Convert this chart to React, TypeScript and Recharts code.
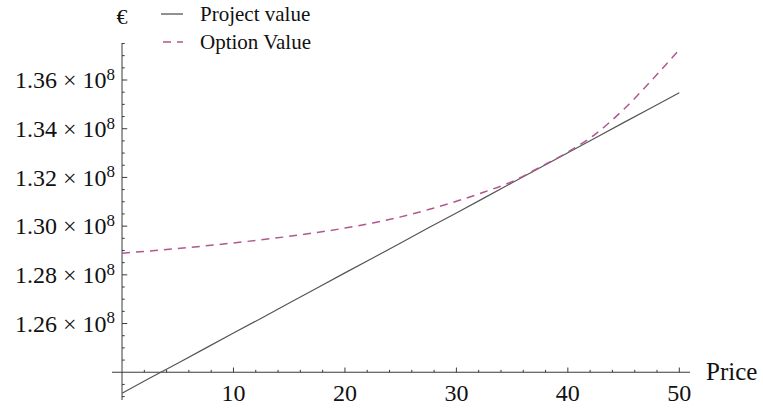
import React from 'react';
import { LineChart, Line, XAxis, YAxis, ReferenceLine, Legend } from 'recharts';

// ---------- data ----------
const PRICES = [0, 2.5, 5, 7.5, 10, 12.5, 15, 17.5, 20, 22.5, 25, 27.5, 30, 32.5, 35, 37.5, 40, 42.5, 45, 47.5, 50];
const PROJECT_VALUE = [
  1.2314e8, 1.2376e8, 1.2437e8, 1.2499e8, 1.2561e8, 1.2622e8, 1.2684e8, 1.2746e8, 1.2808e8, 1.2869e8,
  1.2931e8, 1.2993e8, 1.3054e8, 1.3116e8, 1.3178e8, 1.324e8, 1.3301e8, 1.3363e8, 1.3425e8, 1.3486e8, 1.3548e8,
];
const OPTION_VALUE = [
  1.2889e8, 1.2898e8, 1.2908e8, 1.2919e8, 1.2931e8, 1.2944e8, 1.2958e8, 1.2974e8, 1.2992e8, 1.3013e8,
  1.3038e8, 1.3068e8, 1.3102e8, 1.314e8, 1.3183e8, 1.3242e8, 1.3304e8, 1.3379e8, 1.3479e8, 1.3598e8, 1.3725e8,
];
const SERIES_NAMES = ['Project value', 'Option Value'];
const X_MAJOR_TICKS = [10, 20, 30, 40, 50];
const X_MINOR_TICKS = [2, 4, 6, 8, 12, 14, 16, 18, 22, 24, 26, 28, 32, 34, 36, 38, 42, 44, 46, 48];
const Y_MAJOR_TICKS = [1.26e8, 1.28e8, 1.3e8, 1.32e8, 1.34e8, 1.36e8];
const Y_MINOR_TICKS = [
  1.23e8, 1.235e8, 1.245e8, 1.25e8, 1.255e8, 1.265e8, 1.27e8, 1.275e8, 1.285e8, 1.29e8, 1.295e8,
  1.305e8, 1.31e8, 1.315e8, 1.325e8, 1.33e8, 1.335e8, 1.345e8, 1.35e8, 1.355e8, 1.365e8, 1.37e8, 1.375e8,
];
const AXIS_ORIGIN_X = 0;
const AXIS_ORIGIN_Y = 1.24e8;
const X_DOMAIN: [number, number] = [-0.9, 50.96];
const Y_DOMAIN: [number, number] = [1.2286e8, 1.3752e8];
const X_LABEL = 'Price';
const Y_LABEL = '€';

const data = PRICES.map((p, i) => ({ price: p, project: PROJECT_VALUE[i], option: OPTION_VALUE[i] }));

// ---------- layout ----------
const W = 763;
const H = 410;
const MARGIN = { top: 43, right: 73, bottom: 0, left: 0 };
const Y_AXIS_W = 112;
const X_AXIS_H = 10;
const PLOT_L = MARGIN.left + Y_AXIS_W;
const PLOT_T = MARGIN.top;
const PLOT_W = W - PLOT_L - MARGIN.right;
const PLOT_H = H - PLOT_T - MARGIN.bottom - X_AXIS_H;
const AXIS_X = PLOT_L + ((AXIS_ORIGIN_X - X_DOMAIN[0]) / (X_DOMAIN[1] - X_DOMAIN[0])) * PLOT_W;
const AXIS_Y = PLOT_T + ((Y_DOMAIN[1] - AXIS_ORIGIN_Y) / (Y_DOMAIN[1] - Y_DOMAIN[0])) * PLOT_H;

const FONT = '"Liberation Serif", "Times New Roman", Times, serif';
const AXIS_COLOR = '#3a3a3a';
const TEXT_COLOR = '#111';
const PROJECT_COLOR = '#555555';
const OPTION_COLOR = '#b0588f';

const XTick = (props: any) => {
  const { x, payload } = props;
  const v = payload.value;
  const major = X_MAJOR_TICKS.includes(v);
  return (
    <g>
      <line x1={x} x2={x} y1={AXIS_Y} y2={AXIS_Y - (major ? 4.7 : 2.4)} stroke={AXIS_COLOR} strokeWidth={1} />
      {major && (
        <text x={x} y={AXIS_Y + 28.7} textAnchor="middle" style={{ fontFamily: FONT }} fontSize={24} fill={TEXT_COLOR}>
          {v}
        </text>
      )}
    </g>
  );
};

const YTick = (props: any) => {
  const { y, payload } = props;
  const v = payload.value;
  const major = Y_MAJOR_TICKS.includes(v);
  return (
    <g>
      <line x1={AXIS_X} x2={AXIS_X + (major ? 5.2 : 2.7)} y1={y} y2={y} stroke={AXIS_COLOR} strokeWidth={1} />
      {major && (
        <text x={AXIS_X - 7} y={y + 8.3} textAnchor="end" style={{ fontFamily: FONT }} fontSize={24} fill={TEXT_COLOR}>
          {(v / 1e8).toFixed(2)} × 10
          <tspan dy={-8.5} fontSize={17}>8</tspan>
        </text>
      )}
    </g>
  );
};

const EuroLabel = () => (
  <text x={AXIS_X} y={23.5} textAnchor="middle" style={{ fontFamily: FONT }} fontSize={22} fill={TEXT_COLOR}>
    {Y_LABEL}
  </text>
);

const PriceLabel = () => (
  <text x={706} y={AXIS_Y + 7.8} textAnchor="start" style={{ fontFamily: FONT }} fontSize={25} fill={TEXT_COLOR}>
    {X_LABEL}
  </text>
);

const LegendContent = (props: any) => {
  const payload = [...(props.payload || [])].sort(
    (a: any, b: any) => SERIES_NAMES.indexOf(a.value) - SERIES_NAMES.indexOf(b.value)
  );
  return (
    <svg width={330} height={60} style={{ display: 'block' }}>
      {payload.map((entry: any, i: number) => {
        const rowY = 14 + i * 28;
        const dash = entry.payload && entry.payload.strokeDasharray;
        return (
          <g key={i}>
            <line
              x1={dash ? 163 : 161}
              x2={183}
              y1={rowY}
              y2={rowY}
              stroke={entry.color}
              strokeWidth={1.3}
              strokeDasharray={dash}
            />
            <text x={200} y={rowY + 7} style={{ fontFamily: FONT }} fontSize={21} fill={TEXT_COLOR}>
              {entry.value}
            </text>
          </g>
        );
      })}
    </svg>
  );
};

export default function App() {
  return (
    <div style={{ position: 'absolute', left: 0, top: 0, width: W, height: H, background: '#fff' }}>
      <LineChart width={W} height={H} data={data} margin={MARGIN}>
        <XAxis
          dataKey="price"
          type="number"
          domain={X_DOMAIN}
          allowDataOverflow
          ticks={[...X_MINOR_TICKS, ...X_MAJOR_TICKS].sort((a, b) => a - b)}
          interval={0}
          height={X_AXIS_H}
          axisLine={false}
          tickLine={false}
          tick={<XTick />}
          label={<PriceLabel />}
        />
        <YAxis
          type="number"
          domain={Y_DOMAIN}
          allowDataOverflow
          ticks={[...Y_MINOR_TICKS, ...Y_MAJOR_TICKS].sort((a, b) => a - b)}
          interval={0}
          width={Y_AXIS_W}
          axisLine={false}
          tickLine={false}
          tick={<YTick />}
          label={<EuroLabel />}
        />
        <ReferenceLine y={AXIS_ORIGIN_Y} stroke={AXIS_COLOR} strokeWidth={1} />
        <ReferenceLine x={AXIS_ORIGIN_X} stroke={AXIS_COLOR} strokeWidth={1} />
        <Legend
          layout="horizontal"
          verticalAlign="middle"
          align="center"
          content={<LegendContent />}
          wrapperStyle={{ position: 'absolute', left: 0, top: 0, width: 330, height: 60 }}
        />
        <Line
          type="linear"
          dataKey="project"
          name={SERIES_NAMES[0]}
          stroke={PROJECT_COLOR}
          strokeWidth={1.2}
          dot={false}
          isAnimationActive={false}
        />
        <Line
          type="monotone"
          dataKey="option"
          name={SERIES_NAMES[1]}
          stroke={OPTION_COLOR}
          strokeWidth={1.5}
          strokeDasharray="8 6"
          dot={false}
          isAnimationActive={false}
        />
      </LineChart>
    </div>
  );
}
